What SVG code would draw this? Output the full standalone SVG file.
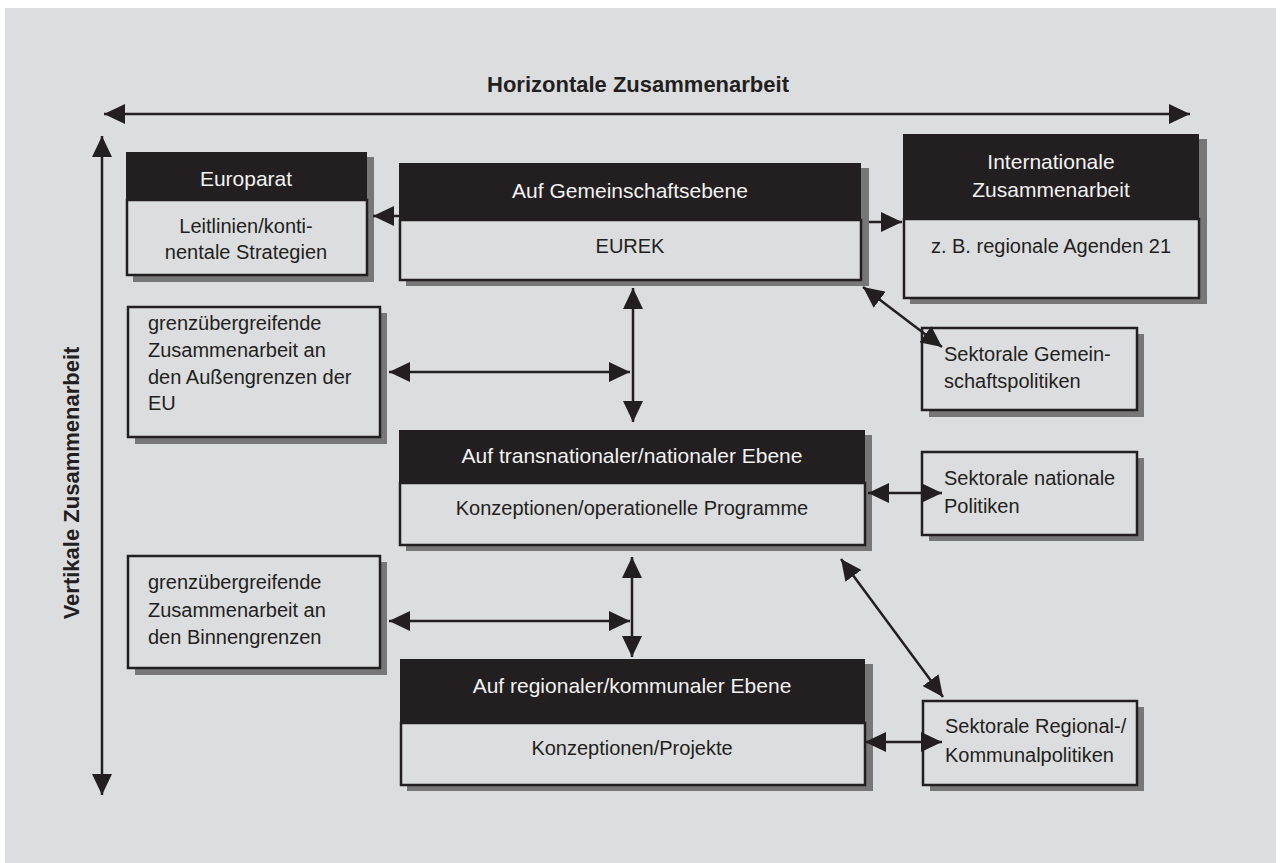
<svg xmlns="http://www.w3.org/2000/svg" width="1281" height="863" viewBox="0 0 1281 863">
<style>
.bg{fill:#dcdddf}
.sh{fill:#777}
.hd{fill:#231f20}
.bd{fill:#dcdddf;stroke:#231f20;stroke-width:2.5}
.ht{font-family:"Liberation Sans",Arial,sans-serif;font-size:21px;fill:#f2f2f2;text-anchor:middle}
.tc{font-family:"Liberation Sans",Arial,sans-serif;font-size:20px;fill:#231f20;text-anchor:middle}
.tl{font-family:"Liberation Sans",Arial,sans-serif;font-size:20px;fill:#231f20}
.ti{font-family:"Liberation Sans",Arial,sans-serif;font-size:22px;font-weight:bold;fill:#231f20;text-anchor:middle}
.ln{stroke:#231f20;stroke-width:2.5;fill:none}
</style>
<defs>
<marker id="ah" viewBox="0 0 21 20" refX="21" refY="10" markerWidth="21" markerHeight="20" markerUnits="userSpaceOnUse" orient="auto-start-reverse">
<path d="M0,0 L21,10 L0,20 z" fill="#231f20"/>
</marker>
</defs>
<rect x="0" y="0" width="1281" height="863" fill="#ffffff"/>
<rect x="5" y="8" width="1271" height="855" class="bg"/>

<g id="titles">
<text class="ti" x="638" y="92">Horizontale Zusammenarbeit</text>
<text class="ti" transform="translate(79,483) rotate(-90)" x="0" y="0">Vertikale Zusammenarbeit</text>
</g>

<g id="europarat">
<rect class="sh" x="133" y="157" width="241" height="125"/>
<rect class="bd" x="127" y="200" width="240" height="75"/>
<rect class="hd" x="126" y="152" width="241" height="48"/>
<text class="ht" x="246" y="186">Europarat</text>
<text class="tc" x="246" y="233">Leitlinien/konti-</text>
<text class="tc" x="246" y="259">nentale Strategien</text>
</g>

<g id="gemeinschaft">
<rect class="sh" x="406" y="168" width="463" height="118"/>
<rect class="bd" x="400" y="220" width="461" height="60"/>
<rect class="hd" x="399" y="163" width="462" height="57"/>
<text class="ht" x="630" y="198">Auf Gemeinschaftsebene</text>
<text class="tc" x="630" y="253">EUREK</text>
</g>

<g id="international">
<rect class="sh" x="910" y="139" width="297" height="165"/>
<rect class="bd" x="904" y="219" width="295" height="79"/>
<rect class="hd" x="903" y="134" width="296" height="85"/>
<text class="ht" x="1051" y="169">Internationale</text>
<text class="ht" x="1051" y="197">Zusammenarbeit</text>
<text class="tc" x="1051" y="253">z. B. regionale Agenden 21</text>
</g>

<g id="aussengrenzen">
<rect class="sh" x="135" y="313" width="252" height="131"/>
<rect class="bd" x="128" y="307" width="252" height="130"/>
<text class="tl" x="148" y="330">grenzübergreifende</text>
<text class="tl" x="148" y="357">Zusammenarbeit an</text>
<text class="tl" x="148" y="384">den Außengrenzen der</text>
<text class="tl" x="148" y="410">EU</text>
</g>

<g id="sektorale-gemeinschaft">
<rect class="sh" x="929" y="334" width="215" height="83"/>
<rect class="bd" x="922" y="328" width="215" height="82"/>
<text class="tl" x="944" y="361">Sektorale Gemein-</text>
<text class="tl" x="944" y="388">schaftspolitiken</text>
</g>

<g id="transnational">
<rect class="sh" x="406" y="435" width="466" height="116"/>
<rect class="bd" x="400" y="483" width="465" height="62"/>
<rect class="hd" x="399" y="430" width="466" height="53"/>
<text class="ht" x="632" y="463">Auf transnationaler/nationaler Ebene</text>
<text class="tc" x="632" y="515">Konzeptionen/operationelle Programme</text>
</g>

<g id="sektorale-national">
<rect class="sh" x="929" y="458" width="215" height="83"/>
<rect class="bd" x="922" y="452" width="215" height="83"/>
<text class="tl" x="944" y="485">Sektorale nationale</text>
<text class="tl" x="944" y="513">Politiken</text>
</g>

<g id="binnengrenzen">
<rect class="sh" x="135" y="562" width="252" height="113"/>
<rect class="bd" x="128" y="556" width="252" height="112"/>
<text class="tl" x="148" y="589">grenzübergreifende</text>
<text class="tl" x="148" y="617">Zusammenarbeit an</text>
<text class="tl" x="148" y="644">den Binnengrenzen</text>
</g>

<g id="regional">
<rect class="sh" x="407" y="664" width="466" height="127"/>
<rect class="bd" x="401" y="723" width="464" height="62"/>
<rect class="hd" x="400" y="659" width="465" height="64"/>
<text class="ht" x="632" y="693">Auf regionaler/kommunaler Ebene</text>
<text class="tc" x="632" y="755">Konzeptionen/Projekte</text>
</g>

<g id="sektorale-regional">
<rect class="sh" x="930" y="707" width="214" height="84"/>
<rect class="bd" x="923" y="701" width="214" height="84"/>
<text class="tl" x="945" y="733">Sektorale Regional-/</text>
<text class="tl" x="945" y="762">Kommunalpolitiken</text>
</g>

<g id="connectors">
<line class="ln" x1="104" y1="114" x2="1190" y2="114" marker-start="url(#ah)" marker-end="url(#ah)"/>
<line class="ln" x1="102" y1="136" x2="102" y2="795" marker-start="url(#ah)" marker-end="url(#ah)"/>
<line class="ln" x1="399" y1="216" x2="373" y2="216" marker-end="url(#ah)"/>
<line class="ln" x1="869" y1="222" x2="902" y2="222" marker-end="url(#ah)"/>
<line class="ln" x1="633" y1="288" x2="633" y2="422" marker-start="url(#ah)" marker-end="url(#ah)"/>
<line class="ln" x1="389" y1="372" x2="630" y2="372" marker-start="url(#ah)" marker-end="url(#ah)"/>
<line class="ln" x1="863" y1="287" x2="942" y2="347" marker-start="url(#ah)" marker-end="url(#ah)"/>
<line class="ln" x1="868" y1="493" x2="942" y2="493" marker-start="url(#ah)" marker-end="url(#ah)"/>
<line class="ln" x1="632" y1="557" x2="632" y2="657" marker-start="url(#ah)" marker-end="url(#ah)"/>
<line class="ln" x1="389" y1="621" x2="630" y2="621" marker-start="url(#ah)" marker-end="url(#ah)"/>
<line class="ln" x1="841" y1="559" x2="943" y2="697" marker-start="url(#ah)" marker-end="url(#ah)"/>
<line class="ln" x1="865" y1="742" x2="942" y2="742" marker-start="url(#ah)" marker-end="url(#ah)"/>
</g>
</svg>
